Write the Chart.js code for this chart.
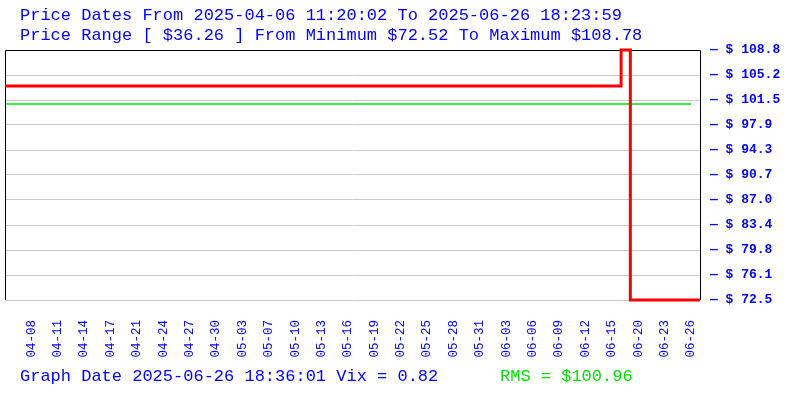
<!DOCTYPE html>
<html>
<head>
<meta charset="utf-8">
<script src="https://cdn.jsdelivr.net/npm/chart.js@4"></script>
<style>
  html, body { margin: 0; padding: 0; background: #fff; }
  #box { width: 800px; height: 400px; }
</style>
</head>
<body>
<div id="box"><canvas id="priceChart"></canvas></div>
<script>
// tick labels along the bottom (one every few samples)
const xLabels = ['04-08', '04-11', '04-14', '04-17', '04-21', '04-24', '04-27', '04-30',
    '05-03', '05-07', '05-10', '05-13', '05-16', '05-19', '05-22', '05-25', '05-28', '05-31',
    '06-03', '06-06', '06-09', '06-12', '06-15', '06-20', '06-23', '06-26'];

// price steps, x in label-index units
const stepX = [-1, 22.35, 22.7, 25.34];
const stepPrice = [103.55, 108.78, 72.52, 72.52];

// RMS reference line
const rmsX = [-0.95, 25];
const rmsPrice = [100.96, 100.96];

const priceMin = 72.52;
const priceMax = 108.78;
const yTickLabels = ['72.5', '76.1', '79.8', '83.4', '87.0', '90.7', '94.3', '97.9', '101.5', '105.2', '108.8'];

const headerLines = [
    'Price Dates From 2025-04-06 11:20:02 To 2025-06-26 18:23:59',
    'Price Range [ $36.26 ] From Minimum $72.52 To Maximum $108.78'
];
const footerText = 'Graph Date 2025-06-26 18:36:01 Vix = 0.82';
const rmsText = 'RMS = $100.96';

const BLUE = '#0000ff';
const GREEN = '#00e600';

// black frame on left, top and right
const framePlugin = {
    id: 'frame',
    beforeDatasetsDraw(chart) {
        const a = chart.chartArea;
        const ctx = chart.ctx;
        ctx.save();
        ctx.strokeStyle = '#000';
        ctx.lineWidth = 1;
        ctx.beginPath();
        ctx.moveTo(a.left + 0.5, a.bottom);
        ctx.lineTo(a.left + 0.5, a.top + 0.5);
        ctx.lineTo(a.right + 0.5, a.top + 0.5);
        ctx.lineTo(a.right + 0.5, a.bottom);
        ctx.stroke();
        ctx.restore();
    }
};

// header and footer texts
const textPlugin = {
    id: 'texts',
    afterDraw(chart) {
        const ctx = chart.ctx;
        ctx.save();
        ctx.font = '17px "Liberation Mono", monospace';
        ctx.textBaseline = 'alphabetic';
        ctx.textAlign = 'left';
        ctx.fillStyle = BLUE;
        ctx.fillText(headerLines[0], 20, 20);
        ctx.fillText(headerLines[1], 20, 40);
        ctx.fillText(footerText, 20, 381);
        ctx.fillStyle = GREEN;
        ctx.fillText(rmsText, 500, 381);
        ctx.restore();
    }
};

const ctx = document.getElementById('priceChart').getContext('2d');
const priceChart = new Chart(ctx, {
    type: 'line',
    data: {
        datasets: [
            {
                label: 'Price',
                data: stepX.map((x, i) => ({ x: x, y: stepPrice[i] })),
                borderColor: '#ff0000',
                borderWidth: 3,
                stepped: 'before',
                pointRadius: 0,
                fill: false,
                clip: 3
            },
            {
                label: 'RMS',
                data: rmsX.map((x, i) => ({ x: x, y: rmsPrice[i] })),
                borderColor: GREEN,
                borderWidth: 1.5,
                pointRadius: 0,
                fill: false
            }
        ]
    },
    options: {
        responsive: true,
        maintainAspectRatio: false,
        animation: false,
        layout: {
            padding: { left: 5, top: 50, right: 0, bottom: 0 }
        },
        plugins: {
            legend: { display: false },
            tooltip: { enabled: false }
        },
        scales: {
            x: {
                type: 'linear',
                min: -1,
                max: 25.34,
                afterBuildTicks(scale) {
                    scale.ticks = xLabels.map((_, i) => ({ value: i }));
                },
                afterFit(scale) {
                    scale.height = 100;
                },
                grid: { display: false, drawTicks: false },
                border: { display: false },
                ticks: {
                    autoSkip: false,
                    maxRotation: 90,
                    minRotation: 90,
                    padding: 20,
                    color: BLUE,
                    font: { family: '"Liberation Mono", monospace', size: 12.5 },
                    callback: function(value, index) {
                        return xLabels[index];
                    }
                }
            },
            y: {
                position: 'right',
                min: priceMin,
                max: priceMax,
                afterBuildTicks(scale) {
                    const step = (priceMax - priceMin) / (yTickLabels.length - 1);
                    scale.ticks = yTickLabels.map((_, i) => ({ value: priceMin + i * step }));
                },
                afterFit(scale) {
                    scale.width = 100;
                },
                grid: { color: '#c8c8c8', drawTicks: false },
                border: { display: false },
                ticks: {
                    padding: 10,
                    color: BLUE,
                    font: { family: '"Liberation Mono", monospace', size: 13, weight: 'bold' },
                    callback: function(value, index) {
                        return '\u2014 $ ' + yTickLabels[index];
                    }
                }
            }
        }
    },
    plugins: [framePlugin, textPlugin]
});
</script>
</body>
</html>
